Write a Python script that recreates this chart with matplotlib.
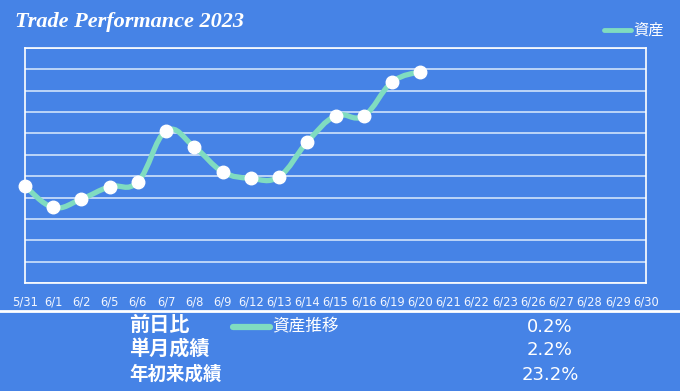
import numpy as np
import matplotlib
matplotlib.use("Agg")
import matplotlib.pyplot as plt
from matplotlib.path import Path
from matplotlib.patches import PathPatch

plt.rcParams['font.family'] = ['Noto Sans CJK JP', 'DejaVu Sans']

# データ
dates = ["5/31", "6/1", "6/2", "6/5", "6/6", "6/7", "6/8", "6/9", "6/12", "6/13",
         "6/14", "6/15", "6/16", "6/19", "6/20", "6/21", "6/22", "6/23", "6/26",
         "6/27", "6/28", "6/29", "6/30"]
assets = [4.54, 3.54, 3.93, 4.51, 4.74, 7.12, 6.37, 5.21, 4.90, 4.98,
          6.60, 7.82, 7.82, 9.40, 9.89]
summary_labels = ["前日比", "単月成績", "年初来成績"]
summary_values = ["0.2%", "2.2%", "23.2%"]

BG = "#4683e6"
MINT = "#80dcc0"
GRID = "#cfe3fb"

fig = plt.figure(figsize=(6.8, 3.91), dpi=100)
fig.patch.set_facecolor(BG)

ax = fig.add_axes([25 / 680, 1 - 283 / 391, 621 / 680, 235 / 391])
ax.set_facecolor(BG)
ax.set_xlim(0, len(dates) - 1)
ax.set_ylim(0, 11)
ax.set_yticks(np.arange(0, 12))
ax.yaxis.grid(True, color=GRID, linewidth=1.2)
ax.set_axisbelow(True)
ax.tick_params(axis='y', left=False, labelleft=False)
ax.set_xticks(np.arange(len(dates)))
ax.set_xticklabels(dates, color="#f2f6ff", fontsize=8.3, family="DejaVu Sans")
ax.tick_params(axis='x', length=0, pad=9)
for s in ax.spines.values():
    s.set_color("white")
    s.set_linewidth(1.2)

# 滑らかな線 (ベジェ曲線)
x = np.arange(len(assets))
y = np.array(assets)
t = 0.4
verts = [(x[0], y[0])]
codes = [Path.MOVETO]
for i in range(len(x) - 1):
    p0 = (x[max(i - 1, 0)], y[max(i - 1, 0)])
    p3 = (x[min(i + 2, len(x) - 1)], y[min(i + 2, len(x) - 1)])
    c1 = (x[i] + (x[i + 1] - p0[0]) * t / 2, y[i] + (y[i + 1] - p0[1]) * t / 2)
    c2 = (x[i + 1] - (p3[0] - x[i]) * t / 2, y[i + 1] - (p3[1] - y[i]) * t / 2)
    verts += [c1, c2, (x[i + 1], y[i + 1])]
    codes += [Path.CURVE4] * 3
ax.add_patch(PathPatch(Path(verts, codes), fill=False, edgecolor=MINT,
                       linewidth=3.8, capstyle='round', joinstyle='round',
                       clip_on=False, zorder=3))
ax.plot(x, y, linestyle='none', marker='o', markersize=9, color="white",
        clip_on=False, zorder=4, label="資産")

# タイトル・凡例
fig.text(15 / 680, 1 - 22 / 391, "Trade Performance 2023", color="white",
         fontsize=16, fontweight="bold", style="italic", family="Liberation Serif",
         va="center", ha="left")
fig.add_artist(plt.Line2D([604 / 680, 631 / 680], [1 - 30 / 391] * 2,
                          color=MINT, linewidth=3.5, solid_capstyle='round'))
fig.text(633 / 680, 1 - 30 / 391, "資産", color="white", fontsize=11,
         va="center", ha="left")

# 下部の区切り線
fig.add_artist(plt.Line2D([0, 1], [1 - 311 / 391] * 2, color="white", linewidth=2))

# 集計表
label_y = [324, 348, 374]
value_y = [327, 350, 375]
sizes = [14.5, 14.5, 13.3]
for lab, val, ly, vy, fs in zip(summary_labels, summary_values, label_y, value_y, sizes):
    fig.text(129 / 680, 1 - ly / 391, lab, color="white", fontsize=fs,
             fontweight="bold", va="center", ha="left")
    fig.text(550 / 680, 1 - vy / 391, val, color="white", fontsize=13,
             va="center", ha="center", family="DejaVu Sans")
fig.add_artist(plt.Line2D([233 / 680, 270 / 680], [1 - 327 / 391] * 2,
                          color=MINT, linewidth=4.5, solid_capstyle='round'))
fig.text(272 / 680, 1 - 327 / 391, "資産推移", color="white", fontsize=12,
         va="center", ha="left")

fig.savefig("out.png", dpi=100, facecolor=BG)
